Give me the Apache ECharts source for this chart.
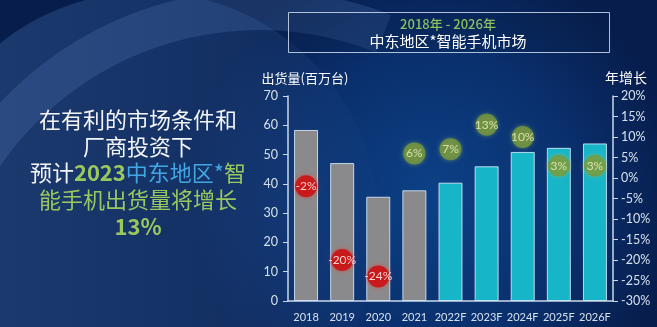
<!DOCTYPE html>
<html>
<head>
<meta charset="utf-8">
<script src="https://cdn.jsdelivr.net/npm/echarts@6/dist/echarts.min.js"></script>
<style>
  html, body { margin: 0; padding: 0; background: #0a2a60; }
  #chart { width: 657px; height: 327px; }
</style>
</head>
<body>
<div id="chart"></div>
<script>
// Middle East smartphone market, 2018-2026 (forecast years marked F)
const categories = ['2018', '2019', '2020', '2021', '2022F', '2023F', '2024F', '2025F', '2026F'];
const shipments = [58.4, 47.1, 35.6, 37.8, 40.4, 46.0, 50.9, 52.3, 53.8];   // million units
const growth = [-2, -20, -24, 6, 7, 13, 10, 3, 3];                          // year-on-year %
const forecast = [false, false, false, false, true, true, true, true, true];

const leftTicks = { min: 0, max: 70, interval: 10 };
const rightTicks = { min: -30, max: 20, interval: 5 };

const GREEN_TEXT = '#99c95e';
const BLUE_TEXT = '#42a6e2';
const AXIS_COLOR = '#c9d8ea';
const LABEL_COLOR = '#d6e1ee';
const NUM_FONT = 'Lato, "Noto Sans CJK SC", sans-serif';
const CJK_FONT = '"Noto Sans CJK SC", sans-serif';

const chart = echarts.init(document.getElementById('chart'), null, { renderer: 'canvas' });

const barData = shipments.map((v, i) => ({
  value: v,
  itemStyle: { color: forecast[i] ? '#17b5c8' : '#8a8a8c' }
}));

const bubbleData = growth.map(g => ({
  value: g,
  itemStyle: g < 0
    ? { color: '#c90a0a', shadowBlur: 5, shadowColor: 'rgba(255,40,40,0.7)' }
    : { color: '#78973a', shadowBlur: 4, shadowColor: 'rgba(160,200,90,0.6)' },
  label: { color: g < 0 ? '#ffffff' : '#f3f2c6' }
}));

chart.setOption({
  backgroundColor: 'transparent',
  animation: false,
  graphic: [
    // backdrop
    {
      type: 'rect', z: -10, silent: true,
      shape: { x: 0, y: 0, width: 657, height: 327 },
      style: {
        fill: {
          type: 'radial', x: 0.66, y: 0.6, r: 0.75,
          colorStops: [
            { offset: 0, color: '#0c4187' },
            { offset: 0.6, color: '#0a2f6c' },
            { offset: 1, color: '#071d4c' }
          ]
        }
      }
    },
    {
      type: 'circle', z: -9, silent: true,
      shape: { cx: 146, cy: 225, r: 233 },
      style: {
        fill: {
          type: 'linear', x: 0, y: 0, x2: 1, y2: 0,
          colorStops: [
            { offset: 0, color: 'rgba(40,70,125,0.75)' },
            { offset: 0.7, color: 'rgba(40,80,140,0.35)' },
            { offset: 1, color: 'rgba(40,80,140,0.05)' }
          ]
        }
      }
    },
    {
      type: 'arc', z: -8, silent: true,
      shape: { cx: 260, cy: 346, r: 336, startAngle: Math.PI * 1.05, endAngle: Math.PI * 1.62 },
      style: { stroke: 'rgba(95,135,195,0.22)', lineWidth: 40, fill: null }
    },
    // title box
    {
      type: 'rect', silent: true,
      shape: { x: 288.5, y: 12.5, width: 321, height: 40 },
      style: { fill: 'rgba(8,30,70,0.25)', stroke: 'rgba(205,222,240,0.85)', lineWidth: 1 }
    },
    {
      type: 'text', silent: true, x: 448, y: 24,
      style: {
        text: '2018年 - 2026年', fill: '#8fbf5f',
        font: '500 13px ' + CJK_FONT, textAlign: 'center', textVerticalAlign: 'middle'
      }
    },
    {
      type: 'text', silent: true, x: 448, y: 41,
      style: {
        text: '中东地区*智能手机市场', fill: '#ffffff',
        font: '15px ' + CJK_FONT, textAlign: 'center', textVerticalAlign: 'middle'
      }
    },
    // axis names
    {
      type: 'text', silent: true, x: 305, y: 78,
      style: {
        text: '出货量(百万台)', fill: '#ffffff',
        font: '13px ' + CJK_FONT, textAlign: 'center', textVerticalAlign: 'middle'
      }
    },
    {
      type: 'text', silent: true, x: 626, y: 78,
      style: {
        text: '年增长', fill: '#ffffff',
        font: '14px ' + CJK_FONT, textAlign: 'center', textVerticalAlign: 'middle'
      }
    },
    // headline on the left
    {
      type: 'text', silent: true, x: 138, y: 120,
      style: {
        text: '在有利的市场条件和', fill: '#f2f4f7',
        font: '22px ' + CJK_FONT, textAlign: 'center', textVerticalAlign: 'middle'
      }
    },
    {
      type: 'text', silent: true, x: 138, y: 147,
      style: {
        text: '厂商投资下', fill: '#f2f4f7',
        font: '22px ' + CJK_FONT, textAlign: 'center', textVerticalAlign: 'middle'
      }
    },
    {
      type: 'text', silent: true, x: 138, y: 173,
      style: {
        text: '{w|预计}{g|2023}{b|中东地区*}{g2|智}',
        textAlign: 'center', textVerticalAlign: 'middle',
        rich: {
          w: { fill: '#f2f4f7', font: '22px ' + CJK_FONT },
          g: { fill: GREEN_TEXT, font: 'bold 22px ' + CJK_FONT },
          b: { fill: BLUE_TEXT, font: '22px ' + CJK_FONT },
          g2: { fill: GREEN_TEXT, font: '22px ' + CJK_FONT }
        }
      }
    },
    {
      type: 'text', silent: true, x: 138, y: 200,
      style: {
        text: '能手机出货量将增长', fill: GREEN_TEXT,
        font: '22px ' + CJK_FONT, textAlign: 'center', textVerticalAlign: 'middle'
      }
    },
    {
      type: 'text', silent: true, x: 138, y: 227,
      style: {
        text: '13%', fill: GREEN_TEXT,
        font: 'bold 22px ' + CJK_FONT, textAlign: 'center', textVerticalAlign: 'middle'
      }
    }
  ],
  grid: { left: 288, right: 44, top: 96, bottom: 26, containLabel: false },
  xAxis: {
    type: 'category',
    data: categories,
    axisLine: { show: true, lineStyle: { color: AXIS_COLOR, width: 1.5 } },
    axisTick: { show: false },
    axisLabel: { color: LABEL_COLOR, fontSize: 11, fontFamily: NUM_FONT, margin: 11, interval: 0 },
    splitLine: { show: false }
  },
  yAxis: [
    {
      type: 'value',
      min: leftTicks.min, max: leftTicks.max, interval: leftTicks.interval,
      axisLine: { show: true, lineStyle: { color: AXIS_COLOR, width: 1.5 } },
      axisTick: { show: true, length: 5, lineStyle: { color: AXIS_COLOR } },
      axisLabel: { color: LABEL_COLOR, fontSize: 12.5, fontFamily: NUM_FONT, margin: 10 },
      splitLine: { show: false }
    },
    {
      type: 'value',
      min: rightTicks.min, max: rightTicks.max, interval: rightTicks.interval,
      position: 'right',
      axisLine: { show: true, lineStyle: { color: AXIS_COLOR, width: 1.5 } },
      axisTick: { show: true, length: 5, lineStyle: { color: AXIS_COLOR } },
      axisLabel: { color: LABEL_COLOR, fontSize: 12.5, fontFamily: NUM_FONT, margin: 8, formatter: '{value}%' },
      splitLine: { show: false }
    }
  ],
  series: [
    {
      name: '出货量',
      type: 'bar',
      yAxisIndex: 0,
      data: barData,
      barWidth: 24,
      itemStyle: { borderColor: 'rgba(215,235,250,0.85)', borderWidth: 1 }
    },
    {
      name: '年增长',
      type: 'scatter',
      yAxisIndex: 1,
      data: bubbleData,
      symbol: 'circle',
      symbolSize: 22,
      z: 5,
      label: {
        show: true, position: 'inside',
        formatter: p => p.value + '%',
        fontSize: 12, fontFamily: NUM_FONT
      }
    }
  ]
});
</script>
</body>
</html>
